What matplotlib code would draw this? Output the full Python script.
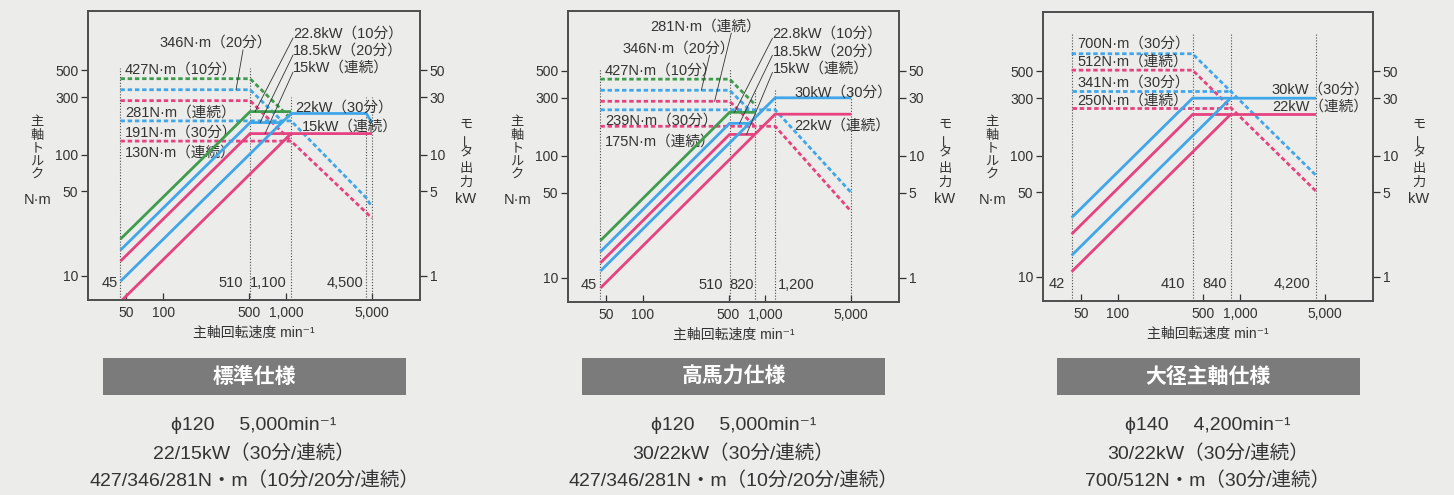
"""
Spindle output / torque diagrams for the three spindle options,
drawn side by side with their spec captions underneath.
"""

import matplotlib
matplotlib.use("Agg")
import matplotlib.pyplot as plt
from matplotlib.patches import Rectangle
from matplotlib.ticker import FixedLocator, FixedFormatter, NullLocator

# Latin glyphs from Liberation Sans, Japanese falls through to Noto CJK
plt.rcParams["font.family"] = ["Liberation Sans", "Noto Sans CJK JP", "DejaVu Sans"]

OUTPUT_PATH = "out.png"
FIG_W, FIG_H = 1454, 495  # pixels at dpi 100

GREEN = "#3f9b4d"
BLUE = "#40a6ea"
PINK = "#e6427f"
BG = "#ececea"
INK = "#333333"
FRAME = "#4d4d4d"

SPEED_RANGE = (24.5, 12300)
TORQUE_RANGE = (6.3, 1550)  # N·m, the kW scale is the same span / 10

SPEED_TICKS = [50, 100, 500, 1000, 5000]
SPEED_LABELS = ["50", "100", "500", "1,000", "5,000"]
TORQUE_TICKS = [10, 50, 100, 300, 500]
POWER_TICKS = [1, 5, 10, 30, 50]

# --- 標準仕様 ---------------------------------------------------------
STD_KW_10MIN = ([45, 510, 1100], [2.01, 22.8, 22.8])
STD_KW_20MIN = ([45, 510, 925], [1.63, 18.5, 18.5])
STD_KW_CONT_LO = ([45, 510, 5000], [1.32, 15, 15])
STD_KW_30MIN = ([45, 1100, 4500, 5000], [0.9, 22, 22, 18.5])
STD_KW_CONT_HI = ([45, 1100], [0.61, 15])
STD_NM_10MIN = ([45, 510, 1100], [427, 427, 198])
STD_NM_20MIN = ([45, 510, 925], [346, 346, 191])
STD_NM_CONT_LO = ([45, 510, 1100], [281, 281, 130])
STD_NM_30MIN = ([45, 1100, 4500, 5000], [191, 191, 44, 37])
STD_NM_CONT_HI = ([45, 1100, 5000], [130, 130, 30])
STD_SPEEDS = [45, 510, 1100, 4500, 5000]

# --- 高馬力仕様 -------------------------------------------------------
HP_KW_10MIN = ([45, 510, 820], [2.01, 22.8, 22.8])
HP_KW_20MIN = ([45, 510, 740], [1.63, 18.5, 18.5])
HP_KW_CONT_LO = ([45, 510, 820], [1.32, 15, 15])
HP_KW_30MIN = ([45, 1200, 5000], [1.13, 30, 30])
HP_KW_CONT_HI = ([45, 1200, 5000], [0.82, 22, 22])
HP_NM_10MIN = ([45, 510, 820], [427, 427, 265])
HP_NM_20MIN = ([45, 510, 740], [346, 346, 239])
HP_NM_CONT_LO = ([45, 510, 820], [281, 281, 175])
HP_NM_30MIN = ([45, 1200, 5000], [239, 239, 50])
HP_NM_CONT_HI = ([45, 1200, 5000], [175, 175, 35])
HP_SPEEDS = [45, 510, 820, 1200, 5000]

# --- 大径主軸仕様 -----------------------------------------------------
LD_KW_30MIN_LO = ([42, 410, 4200], [3.08, 30, 30])
LD_KW_CONT_LO = ([42, 410, 4200], [2.25, 22, 22])
LD_KW_30MIN_HI = ([42, 840], [1.5, 30])
LD_KW_CONT_HI = ([42, 840], [1.1, 22])
LD_NM_30MIN_LO = ([42, 410, 4200], [700, 700, 69])
LD_NM_CONT_LO = ([42, 410, 4200], [512, 512, 51])
LD_NM_30MIN_HI = ([42, 840], [341, 341])
LD_NM_CONT_HI = ([42, 840], [250, 250])
LD_SPEEDS = [42, 410, 840, 4200]

TITLES = ["標準仕様", "高馬力仕様", "大径主軸仕様"]
SPEC_LINES = [
    ["ϕ120\u3000 5,000min⁻¹", "22/15kW（30分/連続）", "427/346/281N・m（10分/20分/連続）"],
    ["ϕ120\u3000 5,000min⁻¹", "30/22kW（30分/連続）", "427/346/281N・m（10分/20分/連続）"],
    ["ϕ140\u3000 4,200min⁻¹", "30/22kW（30分/連続）", "700/512N・m（30分/連続）"],
]

DASH = (0, (1.6, 1.0))
GUIDE = (0, (1.0, 1.6))


def fx(px):
    return px / FIG_W


def fy(py):
    return 1 - py / FIG_H


def stacked(fig, x, y, text, pitch, size=9.5):
    # vertical Japanese caption, one glyph per row; ー turned upright
    for i, ch in enumerate(text):
        fig.text(fx(x), fy(y + i * pitch), ch, ha="center", va="center",
                 fontsize=size, color=INK, rotation=90 if ch == "ー" else 0)


def draw_panel(fig, box, panel):
    left, top, right, bottom = box
    ax = fig.add_axes([fx(left), fy(bottom), fx(right - left), (bottom - top) / FIG_H])
    ax.set_xscale("log")
    ax.set_yscale("log")
    ax.set_xlim(*SPEED_RANGE)
    ax.set_ylim(*TORQUE_RANGE)
    ax.set_facecolor("none")

    kw = ax.twinx()
    kw.set_yscale("log")
    kw.set_ylim(TORQUE_RANGE[0] / 10, TORQUE_RANGE[1] / 10)

    ax.xaxis.set_major_locator(FixedLocator(SPEED_TICKS))
    ax.xaxis.set_major_formatter(FixedFormatter(SPEED_LABELS))
    ax.xaxis.set_minor_locator(NullLocator())
    ax.yaxis.set_major_locator(FixedLocator(TORQUE_TICKS))
    ax.yaxis.set_major_formatter(FixedFormatter([str(v) for v in TORQUE_TICKS]))
    ax.yaxis.set_minor_locator(NullLocator())
    kw.yaxis.set_major_locator(FixedLocator(POWER_TICKS))
    kw.yaxis.set_major_formatter(FixedFormatter([str(v) for v in POWER_TICKS]))
    kw.yaxis.set_minor_locator(NullLocator())

    ax.tick_params(axis="x", direction="in", length=5, pad=4, labelsize=10,
                   colors=INK, width=0.9)
    ax.tick_params(axis="y", direction="out", length=5, pad=2, labelsize=10,
                   colors=INK, width=0.9)
    kw.tick_params(axis="y", direction="out", length=5, pad=2, labelsize=10,
                   colors=INK, width=0.9)
    for a in (ax, kw):
        for sp in a.spines.values():
            sp.set_color(FRAME)
            sp.set_linewidth(1.2)

    # guide lines at the characteristic speeds
    ax.vlines(panel["speeds"], TORQUE_RANGE[0], panel["guide_tops"],
              colors="#4a4a4a", linestyles=GUIDE, linewidth=0.8)
    for label, x, ha in panel["speed_notes"]:
        ax.text(x, 8.7, label, ha=ha, va="center", fontsize=10.5, color=INK)

    for (speeds, values), color in panel["torque"]:
        ax.plot(speeds, values, color=color, linestyle=DASH, linewidth=2.0,
                dash_capstyle="butt")
    for (speeds, values), color in panel["power"]:
        kw.plot(speeds, values, color=color, linewidth=2.0,
                solid_capstyle="butt", solid_joinstyle="miter")

    for label, x, y in panel["torque_notes"]:
        ax.text(x, y, label, ha="left", va="center", fontsize=10.5, color=INK)
    for label, x, y in panel["power_notes"]:
        kw.text(x, y, label, ha="left", va="center", fontsize=10.5, color=INK)
    for x0, y0, x1, y1 in panel["torque_leaders"]:
        ax.plot([x0, x1], [y0, y1], color=INK, linewidth=0.6)
    for x0, y0, x1, y1 in panel["power_leaders"]:
        kw.plot([x0, x1], [y0, y1], color=INK, linewidth=0.6)

    mid = (left + right) / 2
    fig.text(fx(mid), fy(bottom + 33), "主軸回転速度 min⁻¹", ha="center",
             va="center", fontsize=10, color=INK)
    stacked(fig, left - 51, 122, "主軸トルク", 13.5)
    fig.text(fx(left - 50), fy(200), "N·m", ha="center", va="center",
             fontsize=10.5, color=INK)
    stacked(fig, right + 46, 125, "モータ出力", 14.5)
    fig.text(fx(right + 46), fy(199), "kW", ha="center", va="center",
             fontsize=10.5, color=INK)

    # caption block
    fig.patches.append(Rectangle((fx(mid - 151.5), fy(395)), fx(303), 37 / FIG_H,
                                 transform=fig.transFigure, facecolor="#7b7b7b",
                                 edgecolor="none"))
    fig.text(fx(mid), fy(376.5), panel["title"], ha="center", va="center",
             fontsize=15, fontweight="bold", color="white")
    for line, y in zip(panel["spec"], [426, 454, 481]):
        fig.text(fx(mid), fy(y), line, ha="center", va="center",
                 fontsize=14, color=INK)


def main():
    kw_leaders = [
        (1140, 92.6, 560, 22.8),
        (1140, 67.0, 615, 18.5),
        (1140, 48.4, 675, 15),
    ]
    panels = [
        dict(
            box=(88, 11, 420, 300),
            title=TITLES[0], spec=SPEC_LINES[0],
            speeds=STD_SPEEDS, guide_tops=[520, 520, 300, 300, 300],
            speed_notes=[("45", 42.5, "right"), ("510", 447, "right"),
                         ("1,100", 1019, "right"), ("4,500", 4232, "right")],
            torque=[(STD_NM_10MIN, GREEN), (STD_NM_20MIN, BLUE),
                    (STD_NM_CONT_LO, PINK), (STD_NM_30MIN, BLUE),
                    (STD_NM_CONT_HI, PINK)],
            power=[(STD_KW_10MIN, GREEN), (STD_KW_20MIN, BLUE),
                   (STD_KW_CONT_LO, PINK), (STD_KW_30MIN, BLUE),
                   (STD_KW_CONT_HI, PINK)],
            torque_notes=[("427N·m（10分）", 49, 504), ("346N·m（20分）", 94, 850),
                          ("281N·m（連続）", 49, 224), ("191N·m（30分）", 49, 153),
                          ("130N·m（連続）", 49, 105)],
            power_notes=[("22.8kW（10分）", 1140, 100.9), ("18.5kW（20分）", 1140, 72.3),
                         ("15kW（連続）", 1140, 52.3), ("22kW（30分）", 1183, 24.7),
                         ("15kW（連続）", 1350, 17.2)],
            torque_leaders=[(447, 737, 392, 346)],
            power_leaders=kw_leaders,
        ),
        dict(
            box=(568, 11, 899, 302),
            title=TITLES[1], spec=SPEC_LINES[1],
            speeds=HP_SPEEDS, guide_tops=[520, 520, 357, 357, 357],
            speed_notes=[("45", 42.5, "right"), ("510", 447, "right"),
                         ("820", 509, "left"), ("1,200", 1253, "left")],
            torque=[(HP_NM_10MIN, GREEN), (HP_NM_20MIN, BLUE),
                    (HP_NM_CONT_LO, PINK), (HP_NM_30MIN, BLUE),
                    (HP_NM_CONT_HI, PINK)],
            power=[(HP_KW_10MIN, GREEN), (HP_KW_20MIN, BLUE),
                   (HP_KW_CONT_LO, PINK), (HP_KW_30MIN, BLUE),
                   (HP_KW_CONT_HI, PINK)],
            torque_notes=[("281N·m（連続）", 114, 1153), ("346N·m（20分）", 68.6, 758),
                          ("427N·m（10分）", 49, 504), ("239N·m（30分）", 49, 194),
                          ("175N·m（連続）", 49, 131.5)],
            power_notes=[("22.8kW（10分）", 1140, 100.9), ("18.5kW（20分）", 1140, 72.3),
                         ("15kW（連続）", 1140, 52.3), ("30kW（30分）", 1722, 33.4),
                         ("22kW（連続）", 1722, 17.7)],
            torque_leaders=[(526, 1019, 385, 281), (350, 670, 300, 346)],
            power_leaders=kw_leaders[:2] + [(1140, 48.4, 701, 15)],
        ),
        dict(
            box=(1043, 12, 1373, 301),
            title=TITLES[2], spec=SPEC_LINES[2],
            speeds=LD_SPEEDS, guide_tops=[1033, 1033, 1033, 1033],
            speed_notes=[("42", 37, "right"), ("410", 356, "right"),
                         ("840", 490, "left"), ("4,200", 3750, "right")],
            torque=[(LD_NM_30MIN_LO, BLUE), (LD_NM_CONT_LO, PINK),
                    (LD_NM_30MIN_HI, BLUE), (LD_NM_CONT_HI, PINK)],
            power=[(LD_KW_30MIN_LO, BLUE), (LD_KW_CONT_LO, PINK),
                   (LD_KW_30MIN_HI, BLUE), (LD_KW_CONT_HI, PINK)],
            torque_notes=[("700N·m（30分）", 46.5, 847), ("512N·m（連続）", 46.5, 601),
                          ("341N·m（30分）", 46.5, 403), ("250N·m（連続）", 46.5, 289)],
            power_notes=[("30kW（30分）", 1832, 35.3), ("22kW（連続）", 1832, 25.5)],
            torque_leaders=[],
            power_leaders=[],
        ),
    ]

    fig = plt.figure(figsize=(FIG_W / 100, FIG_H / 100), dpi=100, facecolor=BG)
    for panel in panels:
        draw_panel(fig, panel["box"], panel)
    fig.savefig(OUTPUT_PATH, dpi=100, facecolor=BG)
    print(f"saved {OUTPUT_PATH}")


if __name__ == "__main__":
    main()
